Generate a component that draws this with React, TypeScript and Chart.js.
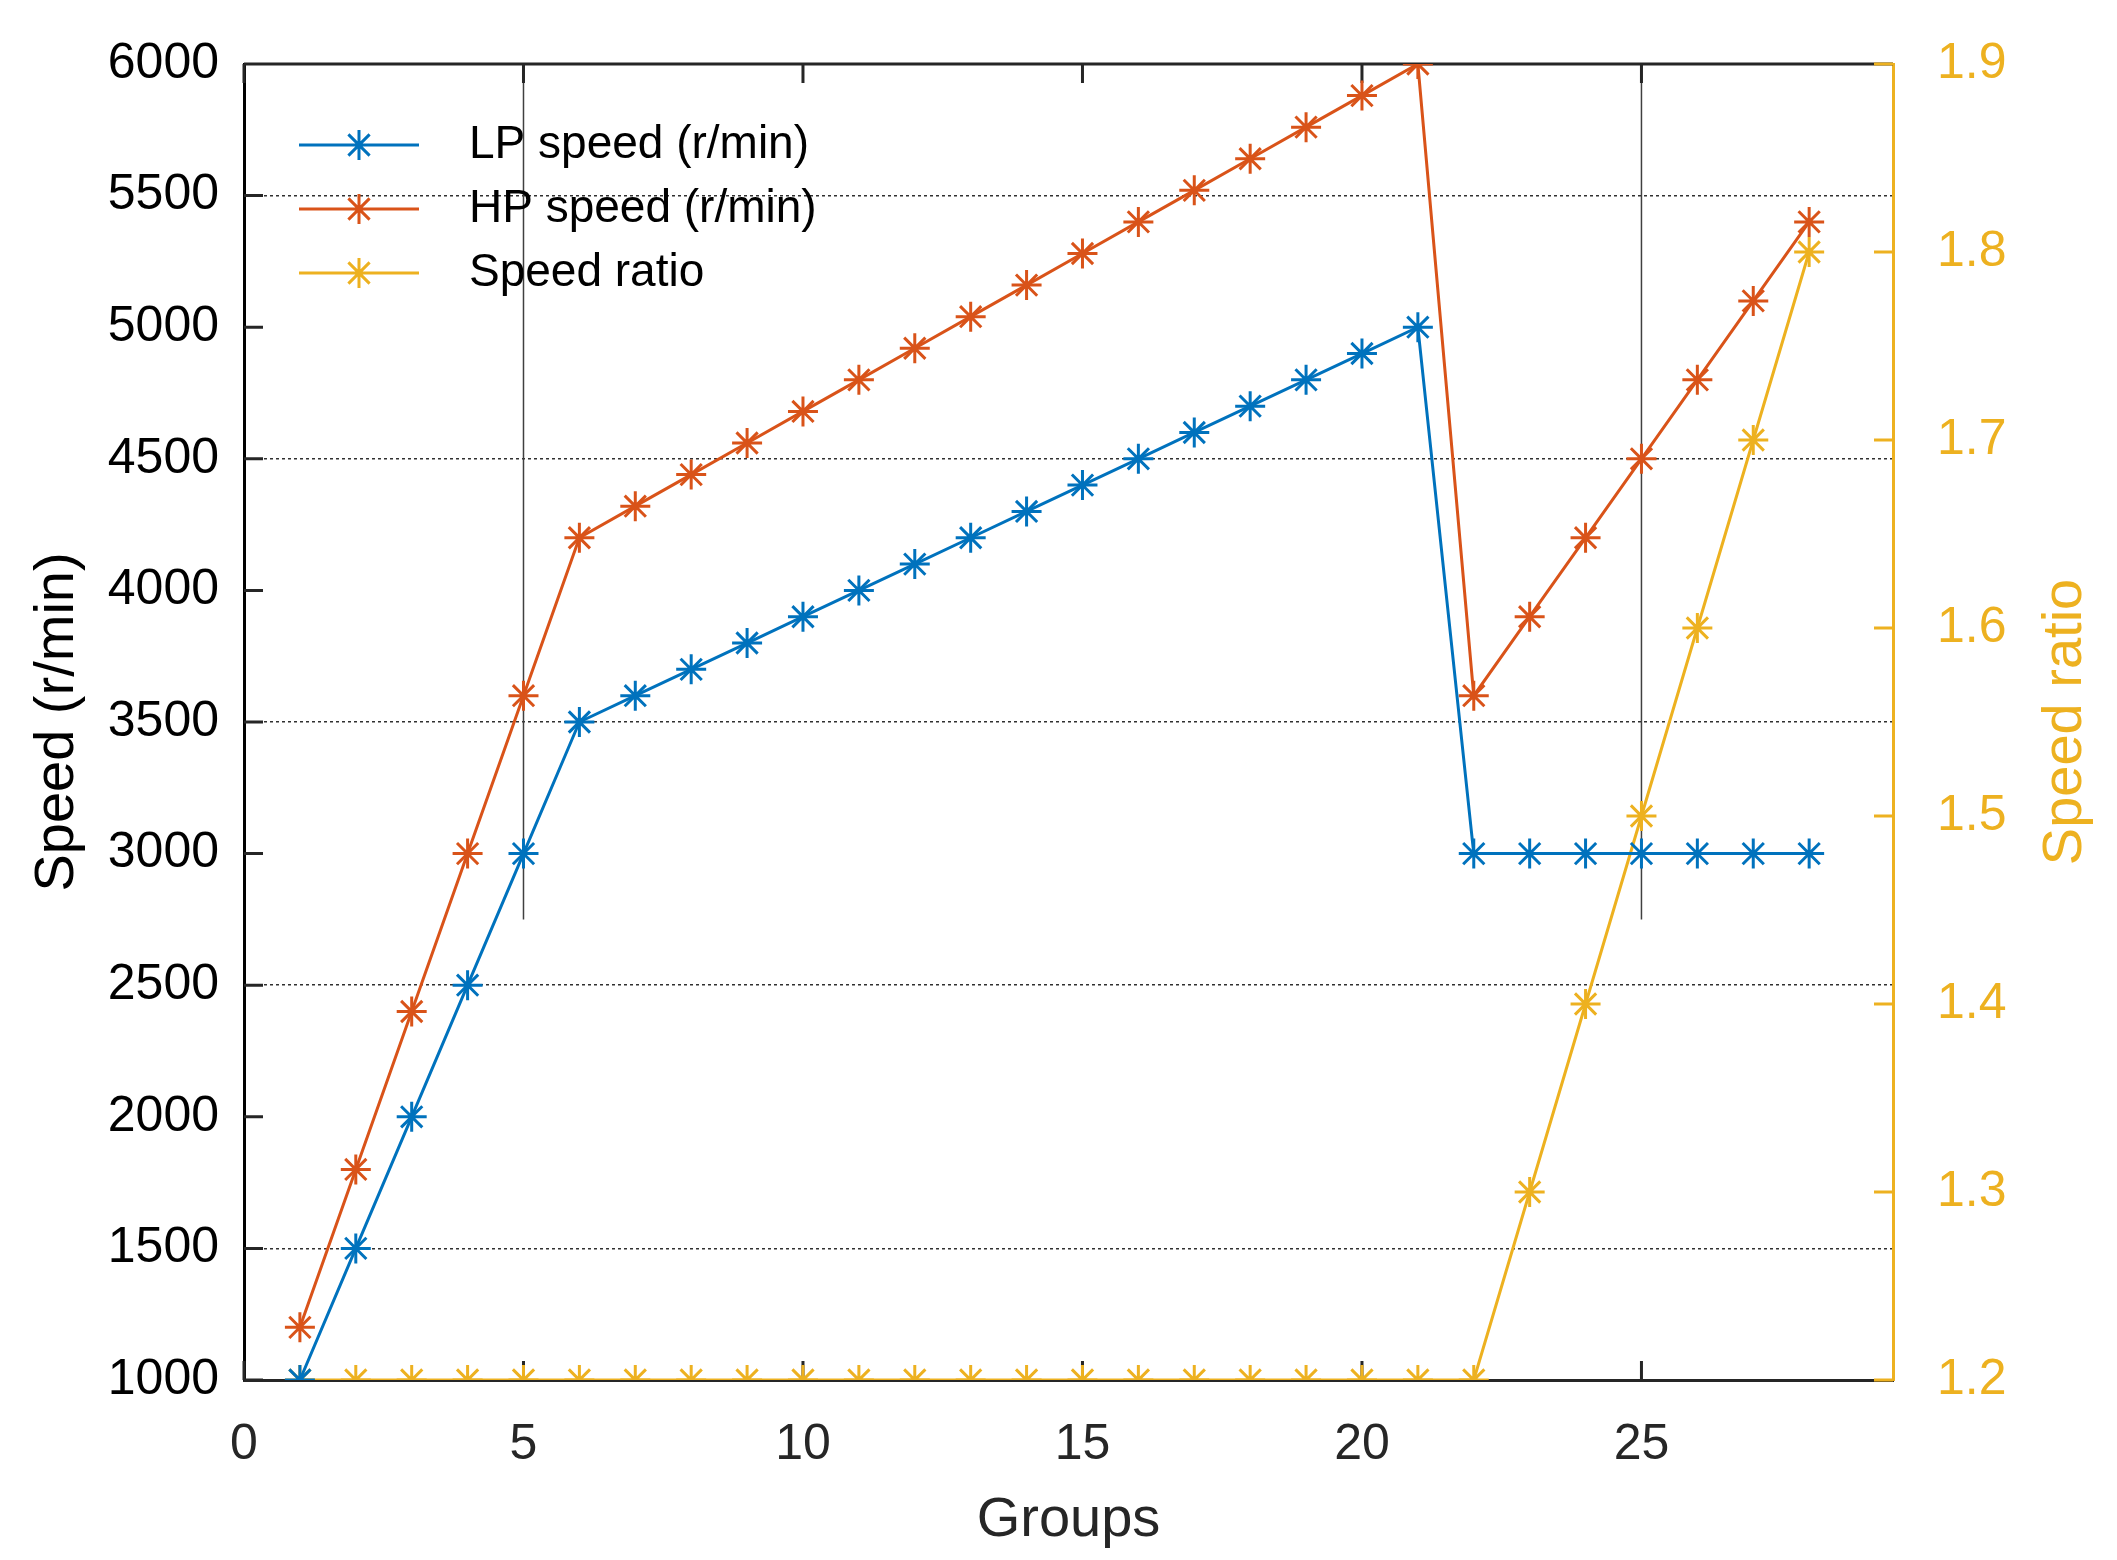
import { useEffect, useRef } from 'react';
import Chart from 'chart.js/auto';

const groups = [1, 2, 3, 4, 5, 6, 7, 8, 9, 10, 11, 12, 13, 14, 15, 16, 17, 18, 19, 20, 21, 22, 23, 24, 25, 26, 27, 28];
const lpSpeed = [1000, 1500, 2000, 2500, 3000, 3500, 3600, 3700, 3800, 3900, 4000, 4100, 4200, 4300, 4400, 4500, 4600, 4700, 4800, 4900, 5000, 3000, 3000, 3000, 3000, 3000, 3000, 3000];
const hpSpeed = [1200, 1800, 2400, 3000, 3600, 4200, 4320, 4440, 4560, 4680, 4800, 4920, 5040, 5160, 5280, 5400, 5520, 5640, 5760, 5880, 6000, 3600, 3900, 4200, 4500, 4800, 5100, 5400];
const speedRatio = [1.2, 1.2, 1.2, 1.2, 1.2, 1.2, 1.2, 1.2, 1.2, 1.2, 1.2, 1.2, 1.2, 1.2, 1.2, 1.2, 1.2, 1.2, 1.2, 1.2, 1.2, 1.2, 1.3, 1.4, 1.5, 1.6, 1.7, 1.8];

const seriesLabels = ['LP speed (r/min)', 'HP speed (r/min)', 'Speed ratio'];
const seriesColors = ['#0072BD', '#D95319', '#EDB120'];

const xTicks = [0, 5, 10, 15, 20, 25];
const speedTicks = [1000, 1500, 2000, 2500, 3000, 3500, 4000, 4500, 5000, 5500, 6000];
const ratioTicks = [1.2, 1.3, 1.4, 1.5, 1.6, 1.7, 1.8, 1.9];
const gridSpeeds = [1500, 2500, 3500, 4500, 5500];
const partialGridX = [5, 25];
const partialGridEnd = 2750;

const FONT = '"Liberation Sans", Arial, sans-serif';
const INK = '#262626';

function star(ctx: CanvasRenderingContext2D, x: number, y: number, r: number) {
  for (let i = 0; i < 4; i++) {
    const a = (i * Math.PI) / 4;
    ctx.moveTo(x - r * Math.cos(a), y - r * Math.sin(a));
    ctx.lineTo(x + r * Math.cos(a), y + r * Math.sin(a));
  }
}

// MATLAB-ish frame: top border, inward ticks, partial grid, legend, right title
const framePlugin = {
  id: 'frame',
  beforeDatasetsDraw(chart: any) {
    const { ctx, chartArea: a, scales } = chart;
    const { x, y, y1 } = scales;
    ctx.save();
    ctx.strokeStyle = '#404040';
    ctx.lineWidth = 1.5;
    ctx.beginPath();
    partialGridX.forEach((v) => {
      const px = x.getPixelForValue(v);
      ctx.moveTo(px, a.top);
      ctx.lineTo(px, y.getPixelForValue(partialGridEnd));
    });
    ctx.stroke();

    const tl = 19;
    ctx.strokeStyle = INK;
    ctx.lineWidth = 3;
    ctx.beginPath();
    ctx.moveTo(a.left, a.top);
    ctx.lineTo(a.right, a.top);
    xTicks.forEach((v) => {
      const px = x.getPixelForValue(v);
      ctx.moveTo(px, a.bottom);
      ctx.lineTo(px, a.bottom - tl);
      ctx.moveTo(px, a.top);
      ctx.lineTo(px, a.top + tl);
    });
    speedTicks.forEach((v) => {
      const py = y.getPixelForValue(v);
      ctx.moveTo(a.left, py);
      ctx.lineTo(a.left + tl, py);
    });
    ctx.stroke();

    ctx.strokeStyle = seriesColors[2];
    ctx.beginPath();
    ratioTicks.forEach((v) => {
      const py = y1.getPixelForValue(v);
      ctx.moveTo(a.right, py);
      ctx.lineTo(a.right - tl, py);
    });
    ctx.stroke();
    ctx.restore();
  },
  afterDraw(chart: any) {
    const { ctx, chartArea: a } = chart;
    ctx.save();
    ctx.font = `46px ${FONT}`;
    ctx.textBaseline = 'middle';
    ctx.textAlign = 'left';
    seriesLabels.forEach((label, i) => {
      const cy = a.top + 81 + i * 64;
      ctx.strokeStyle = seriesColors[i];
      ctx.lineWidth = 3;
      ctx.beginPath();
      ctx.moveTo(a.left + 55, cy);
      ctx.lineTo(a.left + 175, cy);
      star(ctx, a.left + 115, cy, 15);
      ctx.stroke();
      ctx.fillStyle = '#000000';
      ctx.fillText(label, a.left + 225, cy);
    });

    ctx.translate(chart.width - 51, (a.top + a.bottom) / 2);
    ctx.rotate(-Math.PI / 2);
    ctx.font = `56px ${FONT}`;
    ctx.textAlign = 'center';
    ctx.fillStyle = seriesColors[2];
    ctx.fillText('Speed ratio', 0, 0);
    ctx.restore();
  },
};

export default function App() {
  const canvasRef = useRef<HTMLCanvasElement>(null);

  useEffect(() => {
    if (!canvasRef.current) return;
    const series = [lpSpeed, hpSpeed, speedRatio];
    const chart = new Chart(canvasRef.current, {
      type: 'line',
      data: {
        datasets: series.map((values, i) => ({
          label: seriesLabels[i],
          data: groups.map((g, j) => ({ x: g, y: values[j] })),
          yAxisID: i === 2 ? 'y1' : 'y',
          borderColor: seriesColors[i],
          backgroundColor: seriesColors[i],
          borderWidth: 3,
          pointStyle: 'star',
          pointRadius: 15,
          pointBorderWidth: 3,
          pointBorderColor: seriesColors[i],
          tension: 0,
          fill: false,
        })),
      },
      options: {
        responsive: false,
        devicePixelRatio: 1,
        animation: false,
        layout: { padding: { top: 64, left: 0, right: 0, bottom: 0 } },
        plugins: {
          legend: { display: false },
          tooltip: { enabled: false },
        },
        scales: {
          x: {
            type: 'linear',
            position: 'bottom',
            min: 0,
            max: 29.5,
            afterBuildTicks: (s: any) => {
              s.ticks = xTicks.map((value) => ({ value }));
            },
            afterFit: (s: any) => {
              s.height = 180;
            },
            grid: { display: false, drawTicks: false },
            border: { color: INK, width: 3 },
            ticks: { padding: 35, color: INK, font: { family: FONT, size: 50 } },
            title: {
              display: true,
              text: 'Groups',
              color: INK,
              font: { family: FONT, size: 56 },
              padding: { top: 0, bottom: 6 },
            },
          },
          y: {
            position: 'left',
            min: 1000,
            max: 6000,
            afterBuildTicks: (s: any) => {
              s.ticks = speedTicks.map((value) => ({ value }));
            },
            afterFit: (s: any) => {
              s.width = 244;
              s.paddingTop = 0;
              s.paddingBottom = 0;
            },
            grid: {
              drawTicks: false,
              lineWidth: 1.5,
              color: (c: any) => (gridSpeeds.includes(c.tick?.value) ? '#303030' : 'rgba(0,0,0,0)'),
            },
            border: { color: '#000000', width: 3, dash: [3, 3] },
            ticks: {
              padding: 25,
              color: '#000000',
              font: { family: FONT, size: 50 },
              callback: (v: any) => String(v),
            },
            title: {
              display: true,
              text: 'Speed (r/min)',
              color: '#000000',
              font: { family: FONT, size: 56 },
              padding: { top: 24, bottom: 0 },
            },
          },
          y1: {
            position: 'right',
            min: 1.2,
            max: 1.9,
            afterBuildTicks: (s: any) => {
              s.ticks = ratioTicks.map((value) => ({ value }));
            },
            afterFit: (s: any) => {
              s.width = 224;
              s.paddingTop = 0;
              s.paddingBottom = 0;
            },
            grid: { display: false, drawTicks: false },
            border: { color: seriesColors[2], width: 3 },
            ticks: {
              padding: 44,
              color: seriesColors[2],
              font: { family: FONT, size: 50 },
              callback: (v: any) => Number(v).toFixed(1),
            },
          },
        },
      },
      plugins: [framePlugin],
    } as any);
    return () => chart.destroy();
  }, []);

  return (
    <div style={{ position: 'absolute', left: 0, top: 0, width: 2117, height: 1560, background: '#ffffff' }}>
      <canvas ref={canvasRef} width={2117} height={1560}></canvas>
    </div>
  );
}
